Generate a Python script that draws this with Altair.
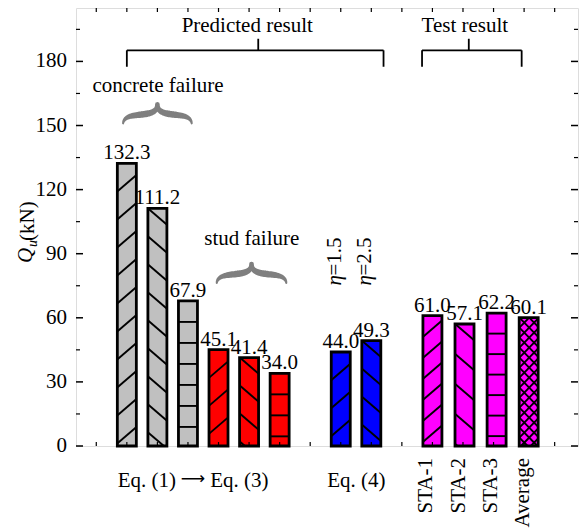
import altair as alt
import pandas as pd
import numpy as np

FONT = "Liberation Serif"

# ---------------- data ----------------
bar_values = [132.3, 111.2, 67.9, 45.1, 41.4, 34.0, 44.0, 49.3, 61.0, 57.1, 62.2, 60.1]
bar_slots = [2, 3, 4, 5, 6, 7, 9, 10, 12, 13.05, 14.1, 15.15]
bar_groups = ["concrete"] * 3 + ["stud"] * 3 + ["eq4"] * 2 + ["test"] * 4
bar_hatch = ["/", "\\", "-", "/", "\\", "-", "/", "\\", "/", "\\", "-", "x"]
group_names = ["concrete", "stud", "eq4", "test"]
test_names = ["STA-1", "STA-2", "STA-3", "Average"]
eq1_parts = ["Eq. (1)", "\u27f6", "Eq. (3)"]
eq1_slots = [3.61, 4.16, 4.73]
eq4_label = "Eq. (4)"
eq4_slot = 9.51
eta_values = ["=1.5", "=2.5"]
y_ticks = [0, 30, 60, 90, 120, 150, 180]
y_minor = [15, 45, 75, 105, 135, 165, 195]
x_ticks = list(range(1, 17))

# ---------------- style ----------------
group_colors = ["#C0C0C0", "#FF0000", "#0000FF", "#FF00FF"]
hatch_gap = [28, 28, 21, 28, 28, 21, 28, 28, 21, 30, 20.5, 10]
W, H = 502, 438
XD = [0.5, 16.6]
YD = [0, 205]
kx = W / (XD[1] - XD[0])
ky = H / (YD[1] - YD[0])
BAR_PX = 19
FS = 21

xs = alt.Scale(domain=XD, nice=False, zero=False)
ys = alt.Scale(domain=YD, nice=False, zero=False)

bars = pd.DataFrame({
    "pos": bar_slots, "value": bar_values, "group": bar_groups,
    "label": [f"{v:.1f}" for v in bar_values],
})


# hatch segments (derived from bar values)
def hatch_rows(pos, val, kind, gap):
    Hb = val * ky
    rise = 16.0 if kind != "x" else float(BAR_PX)
    segs = []
    if kind == "-":
        d = gap
        while d < Hb - 1:
            segs.append((0.0, d, 1.0, d))
            d += gap
    else:
        fams = ["/", "\\"] if kind == "x" else [kind]
        for fam in fams:
            m = -rise if fam == "/" else rise
            for k in range(-4, int(Hb / gap) + 5):
                d0 = k * gap
                ua = (0 - d0) / m
                ub = (Hb - d0) / m
                lo = max(0.0, min(ua, ub))
                hi = min(1.0, max(ua, ub))
                if hi - lo > 0.02:
                    segs.append((lo, d0 + m * lo, hi, d0 + m * hi))
    rows = []
    wd = BAR_PX / kx
    for u1, d1, u2, d2 in segs:
        rows.append({
            "x1": pos + (u1 - 0.5) * wd, "y1": val - d1 / ky,
            "x2": pos + (u2 - 0.5) * wd, "y2": val - d2 / ky,
        })
    return rows


hrows = []
for p, v, h, g in zip(bar_slots, bar_values, bar_hatch, hatch_gap):
    hrows += hatch_rows(p, v, h, g)
hatch = pd.DataFrame(hrows)

fill_layer = alt.Chart(bars).mark_bar(size=BAR_PX).encode(
    x=alt.X("pos:Q", scale=xs, axis=None),
    y=alt.Y("value:Q", scale=ys, axis=None),
    color=alt.Color("group:N", scale=alt.Scale(domain=group_names, range=group_colors), legend=None),
)

hatch_layer = alt.Chart(hatch).mark_rule(color="black", strokeWidth=1.9).encode(
    x=alt.X("x1:Q", scale=xs, axis=None), x2="x2:Q",
    y=alt.Y("y1:Q", scale=ys, axis=None), y2="y2:Q",
)

outline_layer = alt.Chart(bars).mark_bar(size=BAR_PX, fillOpacity=0, stroke="black", strokeWidth=2.8).encode(
    x=alt.X("pos:Q", scale=xs, axis=None),
    y=alt.Y("value:Q", scale=ys, axis=None),
)

value_layer = alt.Chart(bars).mark_text(font=FONT, fontSize=FS, baseline="alphabetic", dy=-4, color="black").encode(
    x=alt.X("pos:Q", scale=xs, axis=None),
    y=alt.Y("value:Q", scale=ys, axis=None),
    text="label:N",
)

# inward ticks and tick labels
ymaj = pd.DataFrame({"v": y_ticks})
ymin = pd.DataFrame({"v": y_minor})
xt = pd.DataFrame({"p": x_ticks})
tick_layers = [
    alt.Chart(ymaj).mark_rule(color="black", strokeWidth=1.5).encode(
        y=alt.Y("v:Q", scale=ys, axis=None), x=alt.value(0), x2=alt.value(7)),
    alt.Chart(ymaj).mark_rule(color="black", strokeWidth=1.5).encode(
        y=alt.Y("v:Q", scale=ys, axis=None), x=alt.value(W), x2=alt.value(W - 7)),
    alt.Chart(ymin).mark_rule(color="black", strokeWidth=1.2).encode(
        y=alt.Y("v:Q", scale=ys, axis=None), x=alt.value(0), x2=alt.value(4)),
    alt.Chart(ymin).mark_rule(color="black", strokeWidth=1.2).encode(
        y=alt.Y("v:Q", scale=ys, axis=None), x=alt.value(W), x2=alt.value(W - 4)),
    alt.Chart(xt).mark_rule(color="black", strokeWidth=1.2).encode(
        x=alt.X("p:Q", scale=xs, axis=None), y=alt.value(0), y2=alt.value(4)),
    alt.Chart(xt).mark_rule(color="black", strokeWidth=1.2).encode(
        x=alt.X("p:Q", scale=xs, axis=None), y=alt.value(H), y2=alt.value(H - 4)),
    alt.Chart(ymaj).mark_text(font=FONT, fontSize=FS, align="right", baseline="middle", color="black").encode(
        y=alt.Y("v:Q", scale=ys, axis=None), x=alt.value(-9), text="v:Q"),
]

# brackets
def bracket(left, right, center, ybar, yleg, ytop):
    return [
        {"x1": left, "x2": right, "y1": ybar, "y2": ybar},
        {"x1": left, "x2": left, "y1": yleg, "y2": ybar},
        {"x1": right, "x2": right, "y1": yleg, "y2": ybar},
        {"x1": center, "x2": center, "y1": ybar, "y2": ytop},
    ]

brk = pd.DataFrame(bracket(2.0, 10.4, 6.3, 185.2, 177.5, 190.6) +
                   bracket(11.66, 14.92, 13.19, 185.2, 177.5, 190.6))
bracket_layer = alt.Chart(brk).mark_rule(color="black", strokeWidth=1.8).encode(
    x=alt.X("x1:Q", scale=xs, axis=None), x2="x2:Q",
    y=alt.Y("y1:Q", scale=ys, axis=None), y2="y2:Q",
)

ann = pd.DataFrame({
    "x": [5.94, 13.06, 3.02, 6.09],
    "y": [194.0, 194.0, 165.9, 93.9],
    "t": ["Predicted result", "Test result", "concrete failure", "stud failure"],
})
ann_layer = alt.Chart(ann).mark_text(font=FONT, fontSize=FS, baseline="alphabetic", color="black").encode(
    x=alt.X("x:Q", scale=xs, axis=None), y=alt.Y("y:Q", scale=ys, axis=None), text="t:N")

# braces
def brace_rows(cx, half_w_px, ybot, h_px, name, n=40):
    P = [(0, 0), (0.05, 0.75), (1.0, 0.15), (1, 1)]
    pts = []
    for i in range(n + 1):
        t = i / n
        b = [(1 - t) ** 3, 3 * (1 - t) ** 2 * t, 3 * (1 - t) * t ** 2, t ** 3]
        bx = sum(b[j] * P[j][0] for j in range(4))
        by = sum(b[j] * P[j][1] for j in range(4))
        w = 2.0 + 4.5 * np.sin(np.pi * min(t, 0.9) / 0.9 * 0.8)
        pts.append((bx, by, w))
    rows = []
    k = 0
    for bx, by, w in pts:
        rows.append({"x": cx - (1 - bx) * half_w_px / kx, "y": ybot + by * h_px / ky,
                     "w": w, "k": k, "b": name})
        k += 1
    for bx, by, w in reversed(pts):
        rows.append({"x": cx + (1 - bx) * half_w_px / kx, "y": ybot + by * h_px / ky,
                     "w": w, "k": k, "b": name})
        k += 1
    return rows

br = pd.DataFrame(brace_rows(3.0, 35, 151.0, 19, "c") + brace_rows(6.08, 35.5, 76.3, 19, "s"))
brace_layer = alt.Chart(br).mark_trail(color="#7F7F7F").encode(
    x=alt.X("x:Q", scale=xs, axis=None), y=alt.Y("y:Q", scale=ys, axis=None),
    size=alt.Size("w:Q", scale=None), detail="b:N", order="k:Q")

# category labels
eq_layers = [
    alt.Chart(pd.DataFrame({"x": [eq1_slots[0]], "t": [eq1_parts[0]]})).mark_text(
        font=FONT, fontSize=FS, baseline="alphabetic", align="right", color="black").encode(
        x=alt.X("x:Q", scale=xs, axis=None), y=alt.value(H + 41), text="t:N"),
    alt.Chart(pd.DataFrame({"x": [eq1_slots[1]], "t": [eq1_parts[1]]})).mark_text(
        font="DejaVu Sans", fontSize=17, baseline="alphabetic", align="center", color="black").encode(
        x=alt.X("x:Q", scale=xs, axis=None), y=alt.value(H + 38), text="t:N"),
    alt.Chart(pd.DataFrame({"x": [eq1_slots[2]], "t": [eq1_parts[2]]})).mark_text(
        font=FONT, fontSize=FS, baseline="alphabetic", align="left", color="black").encode(
        x=alt.X("x:Q", scale=xs, axis=None), y=alt.value(H + 41), text="t:N"),
    alt.Chart(pd.DataFrame({"x": [eq4_slot], "t": [eq4_label]})).mark_text(
        font=FONT, fontSize=FS, baseline="alphabetic", color="black").encode(
        x=alt.X("x:Q", scale=xs, axis=None), y=alt.value(H + 41), text="t:N"),
]

stadf = pd.DataFrame({"x": bar_slots[8:], "t": test_names})
sta_layer = alt.Chart(stadf).mark_text(font=FONT, fontSize=FS, baseline="alphabetic", angle=270,
                                       align="right", color="black").encode(
    x=alt.X("x:Q", scale=xs, axis=None), y=alt.value(H + 12), text="t:N")

etadf = pd.DataFrame({"x": bar_slots[6:8], "y": [75.1, 75.1], "t": eta_values, "e": ["\u03b7", "\u03b7"]})
eta_sym = alt.Chart(etadf).mark_text(font=FONT, fontSize=FS, fontStyle="italic", baseline="alphabetic",
                                     angle=270, align="left", color="black").encode(
    x=alt.X("x:Q", scale=xs, axis=None), y=alt.Y("y:Q", scale=ys, axis=None), text="e:N")
eta_txt = alt.Chart(etadf).mark_text(font=FONT, fontSize=FS, baseline="alphabetic", dx=10,
                                     angle=270, align="left", color="black").encode(
    x=alt.X("x:Q", scale=xs, axis=None), y=alt.Y("y:Q", scale=ys, axis=None), text="t:N")

# y title
one = pd.DataFrame({"a": [0]})
yt_q = alt.Chart(one).mark_text(text="Q", font=FONT, fontSize=FS, fontStyle="italic", angle=270,
                                align="left", baseline="alphabetic", color="black").encode(
    x=alt.value(-44), y=alt.value(255))
yt_u = alt.Chart(one).mark_text(text="u", font=FONT, fontSize=14, fontStyle="italic", angle=270,
                                align="left", baseline="alphabetic", color="black").encode(
    x=alt.value(-39), y=alt.value(239))
yt_kn = alt.Chart(one).mark_text(text="(kN)", font=FONT, fontSize=FS, angle=270,
                                 align="left", baseline="alphabetic", color="black").encode(
    x=alt.value(-42), y=alt.value(233))

chart = alt.layer(
    fill_layer, hatch_layer, outline_layer, value_layer, *tick_layers,
    bracket_layer, ann_layer, brace_layer, *eq_layers, sta_layer, eta_sym, eta_txt,
    yt_q, yt_u, yt_kn,
).properties(
    width=W, height=H,
    padding={"left": 76, "top": 8, "right": 2, "bottom": 83},
    autosize=alt.AutoSizeParams(type="none"),
).configure_view(stroke="black", strokeWidth=1.8).configure(background="white")

chart.save("out.html", embed_options={"renderer": "svg", "actions": False})
